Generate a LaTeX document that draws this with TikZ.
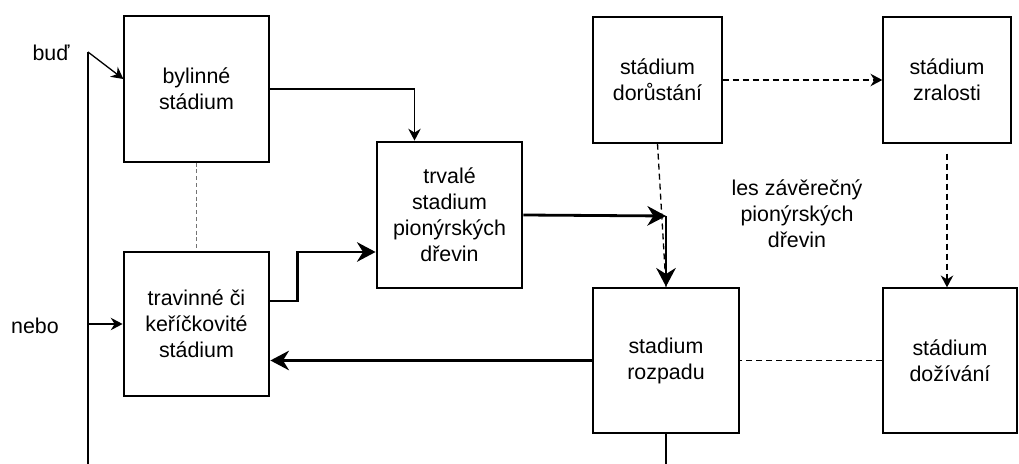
\documentclass[tikz,border=0pt]{standalone}
\usepackage{fontspec}
\setmainfont{Liberation Sans}
\usetikzlibrary{arrows.meta}

\begin{document}
\begin{tikzpicture}[x=0.5pt, y=-0.5pt, >={Stealth[width'=0pt 1.05]},
  every node/.style={font=\fontsize{10.7}{13}\selectfont},
  box/.style={draw, line width=0.65pt, align=center, inner sep=0pt},
  heavybox/.style={box, line width=1.4pt},
  lite/.style={line width=0.65pt},
  heavy/.style={line width=1.4pt},
  dashline/.style={line width=0.65pt, dash pattern=on 3pt off 2pt}]
\useasboundingbox (0,0) rectangle (1019,464);
% Boxes
\node [box, minimum width=72.5pt, minimum height=73pt] (byl) at (196.5,89) {bylinné\\stádium};
\node [heavybox, minimum width=72.5pt, minimum height=72pt] (trav) at (196.5,324) {travinné či\\keříčkovité\\stádium};
\node [heavybox, minimum width=72.5pt, minimum height=73pt] (trv) at (449.5,215) {trvalé\\stadium\\pionýrských\\dřevin};
\node [box, minimum width=64.5pt, minimum height=63pt] (dor) at (657.5,80) {stádium\\dorůstání};
\node [box, minimum width=64pt, minimum height=63pt] (zral) at (947,80) {stádium\\zralosti};
\node [heavybox, minimum width=73pt, minimum height=72.5pt] (rozp) at (666,360.5) {stadium\\rozpadu};
\node [box, minimum width=67pt, minimum height=72.5pt] (doz) at (950,360.5) {stádium\\dožívání};
% Labels
\node (bud) at (51,53) {buď};
\node (nebo) at (35,326) {nebo};
\node [align=center] (les) at (797,214) {les závěrečný\\pionýrských\\dřevin};
% Connectors
\coordinate (top) at (88,52);
\coordinate (foot) at (88,464);
\coordinate (join) at (666,216);
\draw [lite] (foot) -- (top);
\draw [lite, ->] (top) -- ([yshift=5pt]byl.west);
\draw [lite, ->] (trav.west -| top) -- (trav.west);
\draw [lite, ->] (byl.east) -| ([xshift=-17.5pt]trv.north);
\draw [lite, black!55, dash pattern=on 2pt off 1.4pt] (byl.south) -- (trav.north);
\draw [heavy, ->] ([yshift=11.5pt]trav.east) -- ++(27,0) |- ([yshift=-18.5pt]trv.west);
\draw [heavy, ->] (trv.east) -- (join);
\draw [dashline] (dor.south) -- (rozp.north);
\draw [heavy, ->] (join) -- (rozp.north);
\draw [dashline, ->] (dor.east) -- (zral.west);
\draw [dashline, ->] ([yshift=-5pt]zral.south) -- (zral.south |- doz.north);
\draw [dashline] (doz.west) -- (rozp.east);
\draw [heavy, ->] (rozp.west) -- (rozp.west -| trav.east);
\draw [lite] (rozp.south) -- (rozp.south |- foot);
\end{tikzpicture}
\end{document}
